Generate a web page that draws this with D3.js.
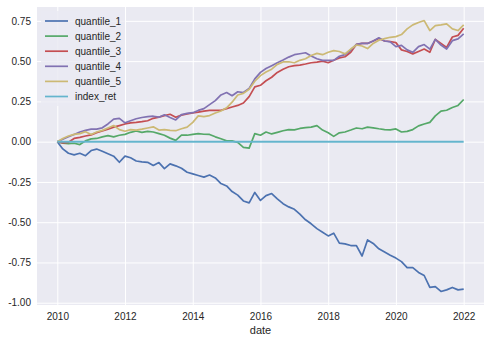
<!DOCTYPE html>
<html><head><meta charset="utf-8">
<script src="https://cdn.jsdelivr.net/npm/d3@7"></script>
<style>body{margin:0;background:#fff}svg{display:block;font-family:"Liberation Sans",Arial,sans-serif}</style>
</head><body><svg id="c" width="490" height="344"></svg>
<script>
const dates = ["2010-01","2010-03","2010-05","2010-07","2010-09","2010-11",
"2011-01","2011-03","2011-05","2011-07","2011-09","2011-11",
"2012-01","2012-03","2012-05","2012-07","2012-09","2012-11",
"2013-01","2013-03","2013-05","2013-07","2013-09","2013-11",
"2014-01","2014-03","2014-05","2014-07","2014-09","2014-11",
"2015-01","2015-03","2015-05","2015-07","2015-09","2015-11",
"2016-01","2016-03","2016-05","2016-07","2016-09","2016-11",
"2017-01","2017-03","2017-05","2017-07","2017-09","2017-11",
"2018-01","2018-03","2018-05","2018-07","2018-09","2018-11",
"2019-01","2019-03","2019-05","2019-07","2019-09","2019-11",
"2020-01","2020-03","2020-05","2020-07","2020-09","2020-11",
"2021-01","2021-03","2021-05","2021-07","2021-09","2021-11",
"2022-01"];

const quantile_1 = [0,-0.045,-0.072,-0.082,-0.072,-0.087,
-0.055,-0.046,-0.06,-0.075,-0.09,-0.128,
-0.09,-0.1,-0.12,-0.125,-0.128,-0.148,
-0.13,-0.167,-0.138,-0.15,-0.165,-0.19,
-0.2,-0.21,-0.22,-0.207,-0.225,-0.26,
-0.275,-0.31,-0.332,-0.368,-0.38,-0.315,
-0.365,-0.335,-0.322,-0.355,-0.385,-0.405,
-0.42,-0.45,-0.485,-0.51,-0.54,-0.562,
-0.585,-0.568,-0.63,-0.635,-0.645,-0.645,
-0.71,-0.61,-0.632,-0.665,-0.685,-0.705,
-0.723,-0.745,-0.782,-0.782,-0.812,-0.831,
-0.905,-0.9,-0.93,-0.92,-0.905,-0.92,
-0.915];

const quantile_2 = [0,-0.01,-0.012,-0.01,-0.018,0.005,
0.017,0.02,0.03,0.037,0.03,0.04,
0.045,0.058,0.066,0.058,0.064,0.06,
0.05,0.04,0.022,0.008,0.04,0.04,
0.045,0.05,0.046,0.045,0.03,0.018,
0.005,0.005,-0.005,-0.035,-0.04,0.05,
0.04,0.06,0.048,0.058,0.068,0.075,
0.073,0.082,0.087,0.09,0.1,0.072,
0.055,0.033,0.055,0.06,0.072,0.085,
0.08,0.09,0.086,0.08,0.075,0.073,
0.079,0.06,0.064,0.075,0.098,0.11,
0.12,0.16,0.19,0.195,0.212,0.225,
0.262];

const quantile_3 = [0,-0.008,-0.004,0.02,0.027,0.035,
0.042,0.056,0.066,0.077,0.09,0.1,
0.11,0.117,0.12,0.124,0.13,0.145,
0.152,0.162,0.17,0.152,0.165,0.172,
0.178,0.183,0.19,0.194,0.194,0.195,
0.205,0.215,0.225,0.24,0.28,0.34,
0.35,0.378,0.4,0.43,0.45,0.465,
0.472,0.475,0.482,0.49,0.494,0.5,
0.49,0.505,0.52,0.527,0.555,0.604,
0.61,0.61,0.625,0.64,0.625,0.622,
0.615,0.57,0.56,0.545,0.56,0.575,
0.555,0.635,0.61,0.585,0.65,0.66,
0.704];

const quantile_4 = [0,0.015,0.03,0.045,0.06,0.07,
0.078,0.078,0.086,0.11,0.14,0.145,
0.117,0.13,0.142,0.15,0.155,0.158,
0.152,0.167,0.15,0.135,0.168,0.176,
0.18,0.194,0.205,0.23,0.255,0.29,
0.305,0.285,0.31,0.305,0.33,0.39,
0.43,0.454,0.472,0.49,0.507,0.525,
0.54,0.546,0.552,0.532,0.515,0.505,
0.505,0.505,0.53,0.54,0.569,0.604,
0.61,0.61,0.625,0.645,0.625,0.62,
0.59,0.598,0.57,0.555,0.59,0.603,
0.575,0.635,0.6,0.575,0.627,0.638,
0.669];

const quantile_5 = [0,0.02,0.035,0.045,0.05,0.062,
0.045,0.06,0.07,0.085,0.1,0.075,
0.065,0.075,0.072,0.078,0.085,0.092,
0.072,0.075,0.07,0.068,0.08,0.09,
0.12,0.16,0.156,0.162,0.178,0.19,
0.21,0.245,0.29,0.3,0.325,0.375,
0.41,0.432,0.45,0.48,0.495,0.496,
0.49,0.505,0.515,0.535,0.548,0.54,
0.555,0.565,0.56,0.545,0.575,0.6,
0.594,0.578,0.61,0.63,0.64,0.648,
0.652,0.665,0.7,0.725,0.74,0.752,
0.69,0.72,0.725,0.731,0.7,0.69,
0.725];

const index_ret = [0,0,0,0,0,0,0,0,0,0,0,0,
0,0,0,0,0,0,0,0,0,0,0,0,
0,0,0,0,0,0,0,0,0,0,0,0,
0,0,0,0,0,0,0,0,0,0,0,0,
0,0,0,0,0,0,0,0,0,0,0,0,
0,0,0,0,0,0,0,0,0,0,0,0,
0];

const seriesNames = ["quantile_1","quantile_2","quantile_3","quantile_4","quantile_5","index_ret"];
const seriesValues = [quantile_1,quantile_2,quantile_3,quantile_4,quantile_5,index_ret];
const colors = ["#4C72B0","#55A868","#C44E52","#8172B2","#CCB974","#64B5CD"];
const yTicks = [-1.00,-0.75,-0.50,-0.25,0.00,0.25,0.50,0.75];
const xLabel = "date";

const parse = d3.timeParse("%Y-%m");
const dts = dates.map(parse);

const L = 37, R = 484, T = 7, B = 305;
const svg = d3.select("#c");

const t0 = +dts[0], t1 = +dts[dts.length-1];
const xpad = (t1 - t0) * 0.05;
const x = d3.scaleTime().domain([new Date(t0 - xpad), new Date(t1 + xpad)]).range([L, R]);
const allV = seriesValues.flat();
const vmin = d3.min(allV), vmax = d3.max(allV);
const ypad = (vmax - vmin) * 0.05;
const y = d3.scaleLinear().domain([vmin - ypad, vmax + ypad]).range([B, T]);

svg.append("rect").attr("x", L).attr("y", T).attr("width", R - L).attr("height", B - T).attr("fill", "#EAEAF2");

const xAxis = svg.append("g").attr("transform", `translate(0,${B})`)
  .call(d3.axisBottom(x).ticks(d3.timeYear.every(2)).tickFormat(d3.timeFormat("%Y")).tickSize(-(B - T)).tickPadding(8));
const yAxis = svg.append("g").attr("transform", `translate(${L},0)`)
  .call(d3.axisLeft(y).tickValues(yTicks).tickFormat(d => d.toFixed(2)).tickSize(-(R - L)).tickPadding(6));
[xAxis, yAxis].forEach(g => {
  g.select(".domain").remove();
  g.selectAll(".tick line").attr("stroke", "#fff").attr("stroke-width", 1);
  g.selectAll(".tick text").attr("fill", "#262626").attr("font-size", 10).attr("font-family", '"Liberation Sans",Arial,sans-serif');
});

const line = d3.line().x((d, i) => x(dts[i])).y(d => y(d));
const plot = svg.append("g");
seriesValues.forEach((vals, si) => {
  plot.append("path").datum(vals).attr("d", line).attr("fill", "none")
    .attr("stroke", colors[si]).attr("stroke-width", si === 5 ? 2 : 1.7).attr("stroke-linejoin", "round");
});

svg.append("text").attr("x", (L + R) / 2).attr("y", 334).attr("text-anchor", "middle")
  .attr("font-size", 11).attr("fill", "#262626").text(xLabel);

const lg = svg.append("g");
lg.append("rect").attr("x", 41).attr("y", 11).attr("width", 84).attr("height", 95)
  .attr("fill", "#EAEAF2").attr("opacity", 0.8);
seriesNames.forEach((n, i) => {
  const yy = 21 + i * 15.1;
  lg.append("line").attr("x1", 45).attr("x2", 68).attr("y1", yy).attr("y2", yy)
    .attr("stroke", colors[i]).attr("stroke-width", 1.7);
  lg.append("text").attr("x", 75).attr("y", yy + 3.6).attr("font-size", 10).attr("fill", "#262626").text(n);
});
</script></body></html>
